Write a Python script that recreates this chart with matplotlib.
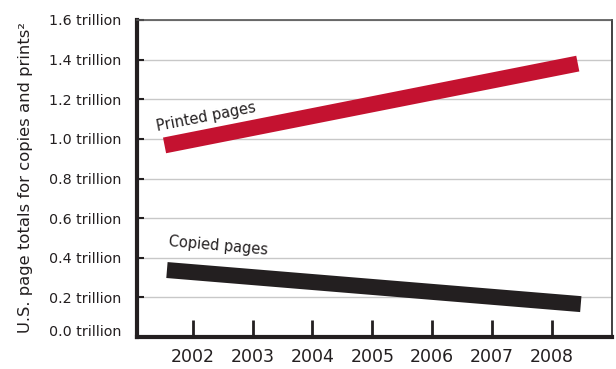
import matplotlib
matplotlib.use("Agg")
import matplotlib.pyplot as plt
import matplotlib.transforms as mtransforms

# band end points (year, trillions of pages)
printed_years = [2001.53, 2008.43]
printed_pages = [0.967, 1.380]
copied_years = [2001.57, 2008.48]
copied_pages = [0.338, 0.166]

years = [2002, 2003, 2004, 2005, 2006, 2007, 2008]
y_ticks = [0.0, 0.2, 0.4, 0.6, 0.8, 1.0, 1.2, 1.4, 1.6]
y_labels = ["%.1f trillion" % v for v in y_ticks]

dark = "#231f20"
red = "#c41230"

plt.rcParams["font.family"] = ["DejaVu Sans"]

fig = plt.figure(figsize=(6.16, 3.69), dpi=100)
ax = fig.add_axes([0.2224, 0.0867, 0.771, 0.8591])

ax.plot(printed_years, printed_pages, color=red, lw=11.5, solid_capstyle="butt", zorder=3)
ax.plot(copied_years, copied_pages, color=dark, lw=11.5, solid_capstyle="butt", zorder=3)

ax.text(2002.23, 1.108, "Printed pages", rotation=11, rotation_mode="anchor",
        ha="center", va="center", fontsize=10.5, color=dark)
ax.text(2002.42, 0.459, "Copied pages", rotation=-5, rotation_mode="anchor",
        ha="center", va="center", fontsize=10.5, color=dark)

ax.set_xlim(2001.07, 2009)
ax.set_ylim(0, 1.6)
ax.set_xticks(years)
ax.set_xticklabels([str(y) for y in years], fontsize=12.5, color=dark)
ax.set_yticks(y_ticks)
ax.set_yticklabels(y_labels, fontsize=10.3, color=dark)

ax.tick_params(axis="x", direction="in", length=12, width=2, color=dark, pad=8)
ax.tick_params(axis="y", direction="in", length=5, width=1.5, color=dark, pad=11)

ax.yaxis.grid(True, color="#c8c8c8", lw=1)
ax.set_axisbelow(True)

ax.spines["left"].set_linewidth(3)
ax.spines["bottom"].set_linewidth(3)
ax.spines["left"].set_color(dark)
ax.spines["bottom"].set_color(dark)
ax.spines["top"].set_linewidth(1.2)
ax.spines["top"].set_color("#555555")
ax.spines["right"].set_linewidth(1.3)
ax.spines["right"].set_color("#333333")

# the bottom label sits a little above its line in the original
lab0 = ax.get_yticklabels()[0]
lab0.set_transform(lab0.get_transform() + mtransforms.ScaledTranslation(0, 5 / 72, fig.dpi_scale_trans))

fig.text(0.041, 0.518, "U.S. page totals for copies and prints\u00b2", rotation=90,
         ha="center", va="center", fontsize=11.8, color=dark)

fig.savefig("out.png", dpi=100)
